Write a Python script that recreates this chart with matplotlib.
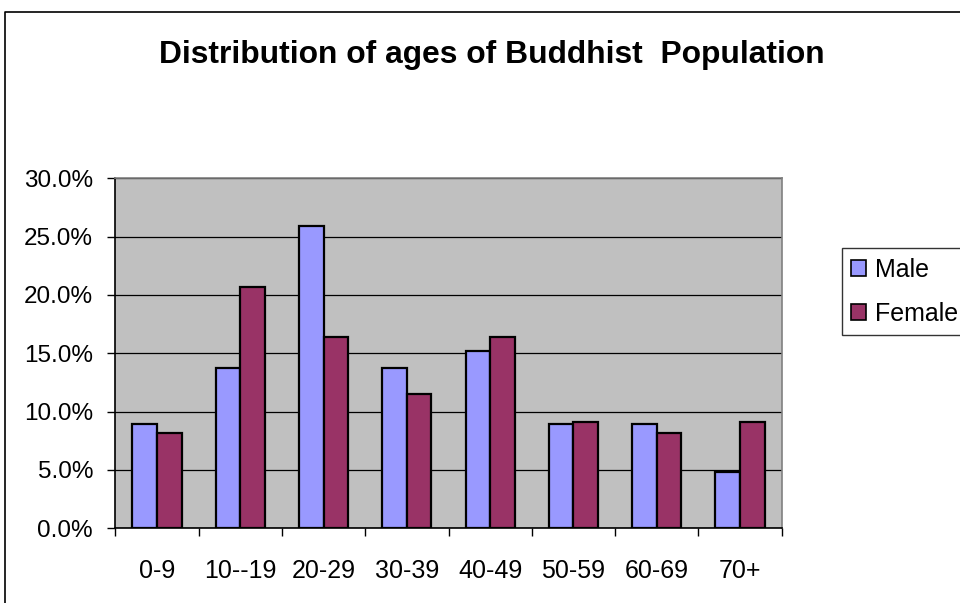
import matplotlib
matplotlib.use("Agg")
import matplotlib.pyplot as plt
from matplotlib.lines import Line2D
from matplotlib.ticker import FixedLocator, FuncFormatter
import numpy as np

plt.rcParams['font.family'] = ['Liberation Sans', 'DejaVu Sans']

# Age groups and share of population (%) by sex
age_groups = ["0-9", "10--19", "20-29", "30-39", "40-49", "50-59", "60-69", "70+"]
male = [8.9, 13.7, 25.9, 13.7, 15.2, 8.9, 8.9, 4.8]
female = [8.2, 20.7, 16.4, 11.5, 16.4, 9.1, 8.2, 9.1]
y_ticks = [0, 5, 10, 15, 20, 25, 30]

W, H = 960, 603
fig = plt.figure(figsize=(W / 100, H / 100), dpi=100)
fig.patch.set_facecolor("white")

# plot area in pixel coordinates
left, right, top, bottom = 115.3, 781.7, 178.3, 528.3
ax = fig.add_axes([left / W, 1 - bottom / H, (right - left) / W, (bottom - top) / H])
ax.set_facecolor("#C0C0C0")

x = np.arange(len(age_groups))
w = 0.295
ax.bar(x - w / 2, male, w, color="#9999FF", edgecolor="black", linewidth=1.6,
       label="Male", zorder=3)
ax.bar(x + w / 2, female, w, color="#993366", edgecolor="black", linewidth=1.6,
       label="Female", zorder=3)

ax.set_xlim(-0.5, len(age_groups) - 0.5)
ax.set_ylim(0, 30)

ax.set_yticks(y_ticks)
ax.yaxis.set_major_formatter(FuncFormatter(lambda v, p: f"{v:.1f}%"))
ax.tick_params(axis="y", direction="out", length=6, width=1, pad=10,
               labelsize=17.5, colors="black")
ax.grid(axis="y", color="black", linewidth=0.9, zorder=1)

ax.set_xticks(x)
ax.set_xticklabels(age_groups)
ax.tick_params(axis="x", which="major", length=0, pad=22, labelsize=18)
ax.xaxis.set_minor_locator(FixedLocator(np.arange(-0.5, len(age_groups), 1.0)))
ax.tick_params(axis="x", which="minor", direction="out", length=6, width=1)

for s in ("left", "bottom"):
    ax.spines[s].set_color("black")
    ax.spines[s].set_linewidth(1.2)
for s in ("top", "right"):
    ax.spines[s].set_color("#808080")
    ax.spines[s].set_linewidth(1.2)

fig.text(492 / W, 1 - 55 / H, "Distribution of ages of Buddhist  Population",
         ha="center", va="center", fontsize=22.9, fontweight="bold")

leg = fig.legend(loc="upper left", bbox_to_anchor=(841.7 / W, 1 - 248.3 / H),
                 borderaxespad=0, fontsize=18, frameon=True, fancybox=False,
                 handlelength=0.6, handleheight=0.6, handletextpad=0.36,
                 borderpad=0.38, labelspacing=0.8)
leg.get_frame().set_edgecolor("black")
leg.get_frame().set_linewidth(1.0)
for h in leg.legend_handles:
    h.set_linewidth(1.2)

# outer chart border (runs off the right and bottom edges)
fig.add_artist(Line2D([5 / W, 5 / W, 1.0], [0.0, 1 - 12 / H, 1 - 12 / H],
                      transform=fig.transFigure, color="black", linewidth=1.2))

fig.savefig("out.png", dpi=100)
